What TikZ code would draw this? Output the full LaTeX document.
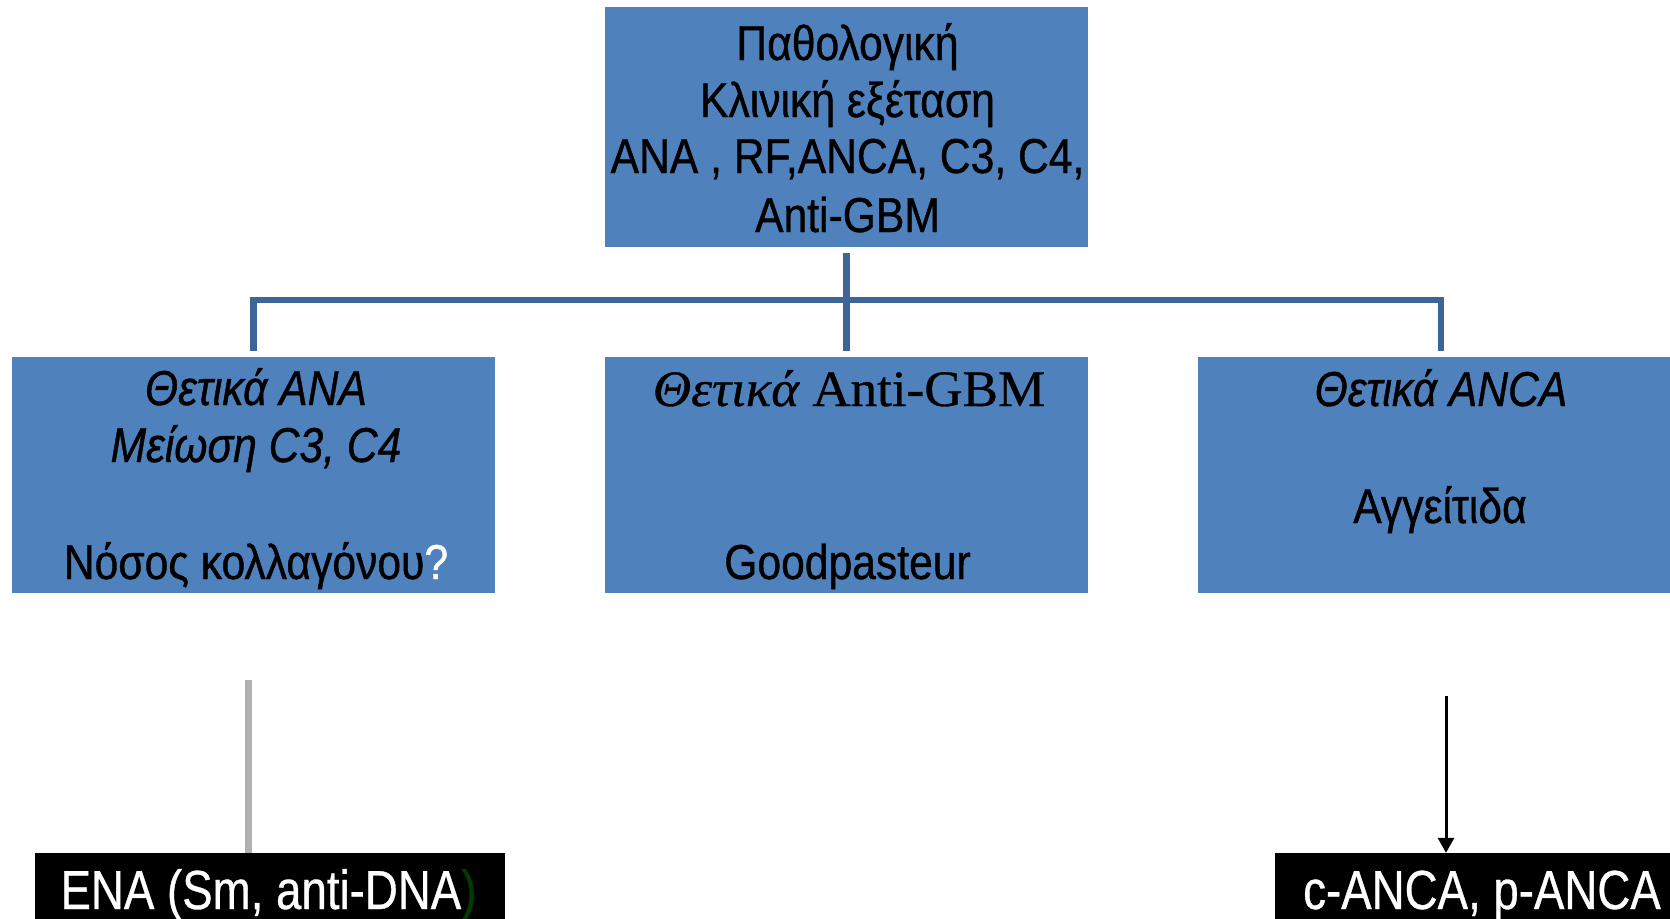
\documentclass[tikz,border=0pt]{standalone}
\usepackage{fontspec}
\setmainfont{Liberation Sans}
\newfontfamily\boxfont{Liberation Sans}[FakeStretch=0.87, FakeBold=0.8]
\newfontfamily\tagfont{Liberation Sans}[FakeStretch=0.83, FakeBold=0.6]
\newfontfamily\serifbox{Liberation Serif}[FakeStretch=1.04, FakeBold=0.6]
\usetikzlibrary{arrows.meta}

\definecolor{boxblue}{RGB}{79,129,189}
\definecolor{linkblue}{RGB}{62,101,151}
\definecolor{linkgray}{RGB}{176,176,176}
\definecolor{darkgreen}{RGB}{0,60,0}

\tikzset{
  bluebox/.style={fill=boxblue, draw=none, inner sep=0pt},
  blackbox/.style={fill=black, draw=none, inner sep=0pt},
  boxtext/.style={anchor=base, inner sep=0pt, font=\boxfont\fontsize{49}{57}\selectfont},
  tagtext/.style={anchor=base, inner sep=0pt, text=white, font=\tagfont\fontsize{55}{64}\selectfont},
  link/.style={draw=linkblue, line width=6.5, shorten <=6, shorten >=6},
}

\begin{document}
\begin{tikzpicture}[x=1pt,y=1pt,yscale=-1,xscale=1]
    \path[use as bounding box] (0,0) rectangle (1670,918);
    \clip (0,0) rectangle (1670,918);

    %Shape: Rectangle
    \node[bluebox, minimum width=483, minimum height=240] (top) at (846.5,127) {};
    %Shape: Rectangle
    \node[bluebox, minimum width=483, minimum height=236] (left) at (253.5,475) {};
    %Shape: Rectangle
    \node[bluebox, minimum width=483, minimum height=236] (mid) at (846.5,475) {};
    %Shape: Rectangle
    \node[bluebox, minimum width=486, minimum height=236] (right) at (1441,475) {};
    %Shape: Rectangle
    \node[blackbox, minimum width=470, minimum height=80] (ena) at (270,893) {};
    %Shape: Rectangle
    \node[blackbox, minimum width=414, minimum height=80] (canca) at (1482,893) {};

    %Straight Lines
    \coordinate (split) at (848.5,300);
    \draw[link] (top.south) -- (top.south |- mid.north);
    \draw[link] (left.north) -- (left.north |- split) -- (right.north |- split) -- (right.north);
    %Straight Lines
    \coordinate (enafrom) at (248,680);
    \draw[linkgray, line width=7] (enafrom) -- (enafrom |- ena.north);
    \coordinate (ancafrom) at (1446,696);
    \draw[line width=3, -{Triangle[width=16,length=15]}] (ancafrom) -- (ancafrom |- canca.north);

    % Text Node
    \node[boxtext] (t1) at (847.5,60) {Παθολογική};
    \node[boxtext] (t2) at (847.5,117) {Κλινική εξέταση};
    \node[boxtext] (t3) at (847.5,173) {ANA , RF,ANCA, C3, C4,};
    \node[boxtext] (t4) at (847.5,232) {Anti-GBM};
    % Text Node
    \node[boxtext] (l1) at (256,405) {\itshape Θετικά ΑΝΑ};
    \node[boxtext] (l2) at (256,462) {\itshape Μείωση C3, C4};
    \node[boxtext] (l3) at (256,579) {Νόσος κολλαγόνου\textcolor{white}{?}};
    % Text Node
    \node[boxtext, font=\serifbox\fontsize{51}{57}\selectfont] (m1) at (849,406) {\itshape Θετικά \upshape Anti-GBM};
    \node[boxtext] (m2) at (847.5,579) {Goodpasteur};
    % Text Node
    \node[boxtext] (r1) at (1441,406) {\itshape Θετικά ANCA};
    \node[boxtext] (r2) at (1440,523) {Αγγείτιδα};
    % Text Node
    \node[tagtext] (e1) at (268.5,909) {ENA (Sm, anti-DNA\textcolor{darkgreen}{)}};
    \node[tagtext] (c1) at (1482,909) {c-ANCA, p-ANCA};

\end{tikzpicture}
\end{document}
